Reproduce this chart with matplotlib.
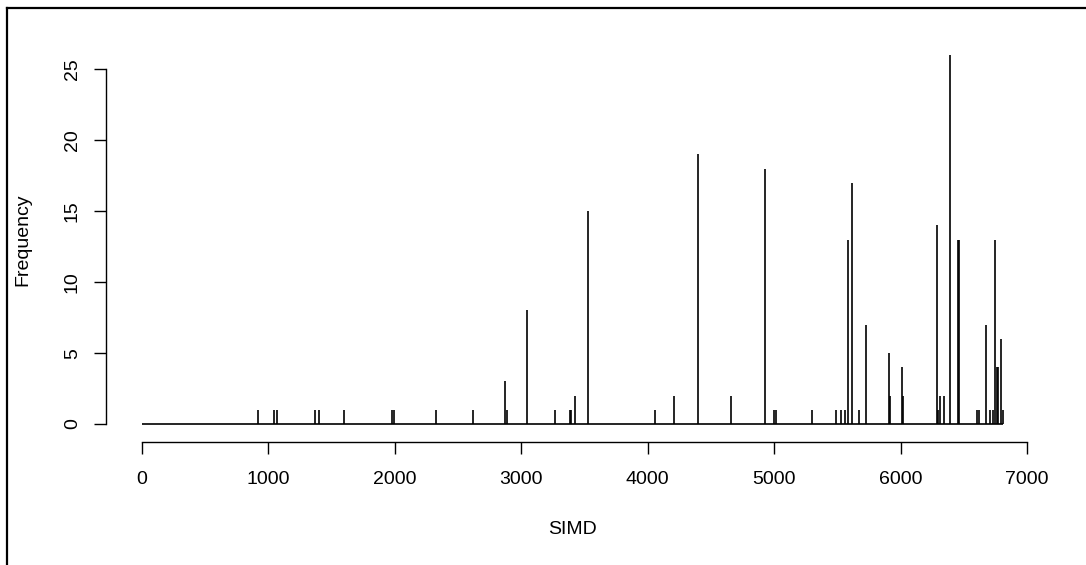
import matplotlib
matplotlib.use('Agg')
import matplotlib.pyplot as plt
from matplotlib.lines import Line2D

plt.rcParams['font.family'] = ['Liberation Sans', 'DejaVu Sans']

######################################################
# Frequency of each SIMD value
simd = [917, 1046, 1067, 1370, 1399, 1599, 1978, 1997, 2329, 2619,
        2869, 2890, 3048, 3269, 3383, 3395, 3428, 3528, 4060, 4210,
        4400, 4661, 4929, 5002, 5012, 5298, 5490, 5528, 5559, 5581,
        5612, 5670, 5723, 5909, 5918, 6010, 6020, 6289, 6297, 6308,
        6342, 6389, 6452, 6460, 6600, 6619, 6674, 6703, 6729, 6743,
        6760, 6770, 6790, 6811]
frequency = [1, 1, 1, 1, 1, 1, 1, 1, 1, 1,
             3, 1, 8, 1, 1, 1, 2, 15, 1, 2,
             19, 2, 18, 1, 1, 1, 1, 1, 1, 13,
             17, 1, 7, 5, 2, 4, 2, 14, 1, 2,
             2, 26, 13, 13, 1, 1, 7, 1, 1, 13,
             4, 4, 6, 1]
x_ticks = [0, 1000, 2000, 3000, 4000, 5000, 6000, 7000]
y_ticks = [0, 5, 10, 15, 20, 25]

######################################################
# R style "type='h'" plot
fig = plt.figure(figsize=(10.86, 5.65), dpi=100)
ax = fig.add_axes([0.0988, 0.2234, 0.8568, 0.7053])

x_min, x_max = 0, max(simd)
ax.hlines(0, x_min, x_max, color='black', lw=1.2)
ax.vlines(simd, 0, frequency, color='black', lw=1.2)

pad_x = 0.04 * (x_max - x_min)
ax.set_xlim(x_min - pad_x, x_max + pad_x)
ax.set_ylim(-0.04 * max(frequency), max(frequency) * 1.04)

for side in ['top', 'right']:
    ax.spines[side].set_visible(False)
ax.spines['bottom'].set_bounds(0, 7000)
ax.spines['left'].set_bounds(0, 25)
ax.spines['bottom'].set_position(('outward', 2))
ax.spines['left'].set_position(('outward', 1))
for side in ['bottom', 'left']:
    ax.spines[side].set_linewidth(1.0)

ax.set_xticks(x_ticks)
ax.set_yticks(y_ticks)
ax.tick_params(axis='both', direction='out', length=8.6, width=1.0,
               labelsize=14, colors='black')
ax.tick_params(axis='x', pad=12.5)
ax.tick_params(axis='y', pad=9.5)
for lab in ax.get_yticklabels():
    lab.set_rotation(90)
    lab.set_va('center')

ax.set_xlabel('SIMD', fontsize=14, labelpad=24)
ax.set_ylabel('Frequency', fontsize=14, labelpad=23)

# screenshot frame at top and left
fig.add_artist(Line2D([0.0066, 1.0], [0.986, 0.986], transform=fig.transFigure,
                      color='black', lw=1.6))
fig.add_artist(Line2D([0.0066, 0.0066], [0.0, 0.986], transform=fig.transFigure,
                      color='black', lw=1.6))

plt.savefig('out.png', dpi=100)
